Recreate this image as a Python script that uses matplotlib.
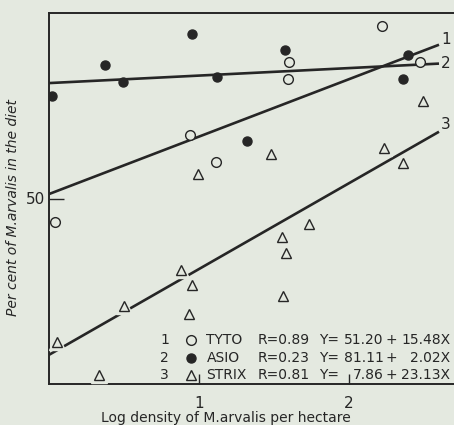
import matplotlib
matplotlib.use("Agg")
import matplotlib.pyplot as plt
import numpy as np

# ---- data ----
tyto_x = [0.04, 0.94, 1.11, 1.59, 1.60, 2.22, 2.47]
tyto_y = [43.7, 67.1, 59.8, 82.2, 86.8, 96.5, 86.8]

asio_x = [0.02, 0.37, 0.49, 0.95, 1.12, 1.32, 1.57, 2.36, 2.39]
asio_y = [77.6, 86.0, 81.4, 94.3, 82.8, 65.5, 90.0, 82.2, 88.7]

strix_x = [0.05, 0.33, 0.50, 0.88, 0.93, 0.95, 0.99, 1.48, 1.55, 1.56, 1.58, 1.73, 2.23, 2.36, 2.49]
strix_y = [11.3, 2.4, 21.0, 30.7, 18.9, 26.7, 56.6, 62.0, 39.6, 23.7, 35.3, 43.1, 63.6, 59.6, 76.3]

line_ids = ["1", "2", "3"]
species = ["TYTO", "ASIO", "STRIX"]
r_values = ["R=0.89", "R=0.23", "R=0.81"]
intercepts = [51.20, 81.11, 7.86]
slopes = [15.48, 2.02, 23.13]
intercept_txt = ["51.20", "81.11", "7.86"]
slope_txt = ["15.48X", "2.02X", "23.13X"]
line_x_end = 2.60

x_ticks = [1, 2]
y_ticks = [50]

# ---- style ----
BG = "#e4e9e0"
INK = "#262626"
plt.rcParams["font.family"] = ["DejaVu Sans"]

fig = plt.figure(figsize=(4.54, 4.25), dpi=100, facecolor=BG)
ax = fig.add_axes([49 / 454, 1 - 384 / 425, 405 / 454, 371 / 425], facecolor=BG)
ax.set_xlim(0, 2.70)
ax.set_ylim(0, 100)

for s in ["left", "bottom", "top"]:
    ax.spines[s].set_linewidth(1.4)
    ax.spines[s].set_color(INK)
ax.spines["right"].set_visible(False)

# regression lines
xs = np.array([0.0, line_x_end])
label_dy = {"1": 1.5, "2": 0.0, "3": 2.0}
for a, b, lid in zip(intercepts, slopes, line_ids):
    ax.plot(xs, a + b * xs, color=INK, lw=1.9, zorder=2, solid_capstyle="butt")
    ax.text(line_x_end + 0.015, a + b * line_x_end + label_dy[lid],
            lid, fontsize=11, color=INK, va="center", ha="left")

# points
ax.plot(strix_x, strix_y, ls="none", marker="^", ms=11, mfc=BG, mec=BG, zorder=3)
ax.plot(strix_x, strix_y, ls="none", marker="^", ms=6.5, mfc=BG, mec=INK, mew=1.0, zorder=4)
ax.plot(tyto_x, tyto_y, ls="none", marker="o", ms=7, mfc=BG, mec=INK, mew=1.0, zorder=4)
ax.plot(asio_x, asio_y, ls="none", marker="o", ms=6.5, mfc=INK, mec=INK, zorder=4)

# ticks
ax.set_xticks(x_ticks)
ax.set_xticklabels([str(t) for t in x_ticks])
ax.set_yticks(y_ticks)
ax.set_yticklabels([str(t) for t in y_ticks])
ax.tick_params(axis="x", direction="in", length=7, width=1.0, pad=9,
               labelsize=11, colors=INK)
ax.tick_params(axis="y", direction="in", length=11, width=1.0, pad=3,
               labelsize=11, colors=INK)

ax.set_xlabel("Log density of M.arvalis per hectare", fontsize=10, color=INK,
              va="center")
ax.xaxis.set_label_coords((226 - 49) / 405, -34 / 371)
ax.set_ylabel("Per cent of M.arvalis in the diet", fontsize=10, color=INK,
              style="italic", va="center")
ax.yaxis.set_label_coords((13 - 49) / 405, (384 - 208) / 371)

# legend block (text)
markers = [dict(marker="o", mfc=BG, mec=INK, ms=7, mew=1.0),
           dict(marker="o", mfc=INK, mec=INK, ms=6.5),
           dict(marker="^", mfc=BG, mec=INK, ms=6.5, mew=1.0)]
row_y = [11.9, 7.1, 2.3]
fs = 10
for i in range(3):
    y = row_y[i]
    ax.text(0.80, y, line_ids[i], fontsize=fs, color=INK, ha="right", va="center")
    ax.plot([0.947], [y], ls="none", zorder=5, **markers[i])
    ax.text(1.05, y, species[i], fontsize=fs, color=INK, ha="left", va="center")
    ax.text(1.39, y, r_values[i], fontsize=fs, color=INK, ha="left", va="center")
    ax.text(1.80, y, "Y=", fontsize=fs, color=INK, ha="left", va="center")
    ax.text(2.23, y, intercept_txt[i], fontsize=fs, color=INK, ha="right", va="center")
    ax.text(2.285, y, "+", fontsize=fs, color=INK, ha="center", va="center")
    ax.text(2.675, y, slope_txt[i], fontsize=fs, color=INK, ha="right", va="center")

fig.savefig("out.png", dpi=100, facecolor=BG)
